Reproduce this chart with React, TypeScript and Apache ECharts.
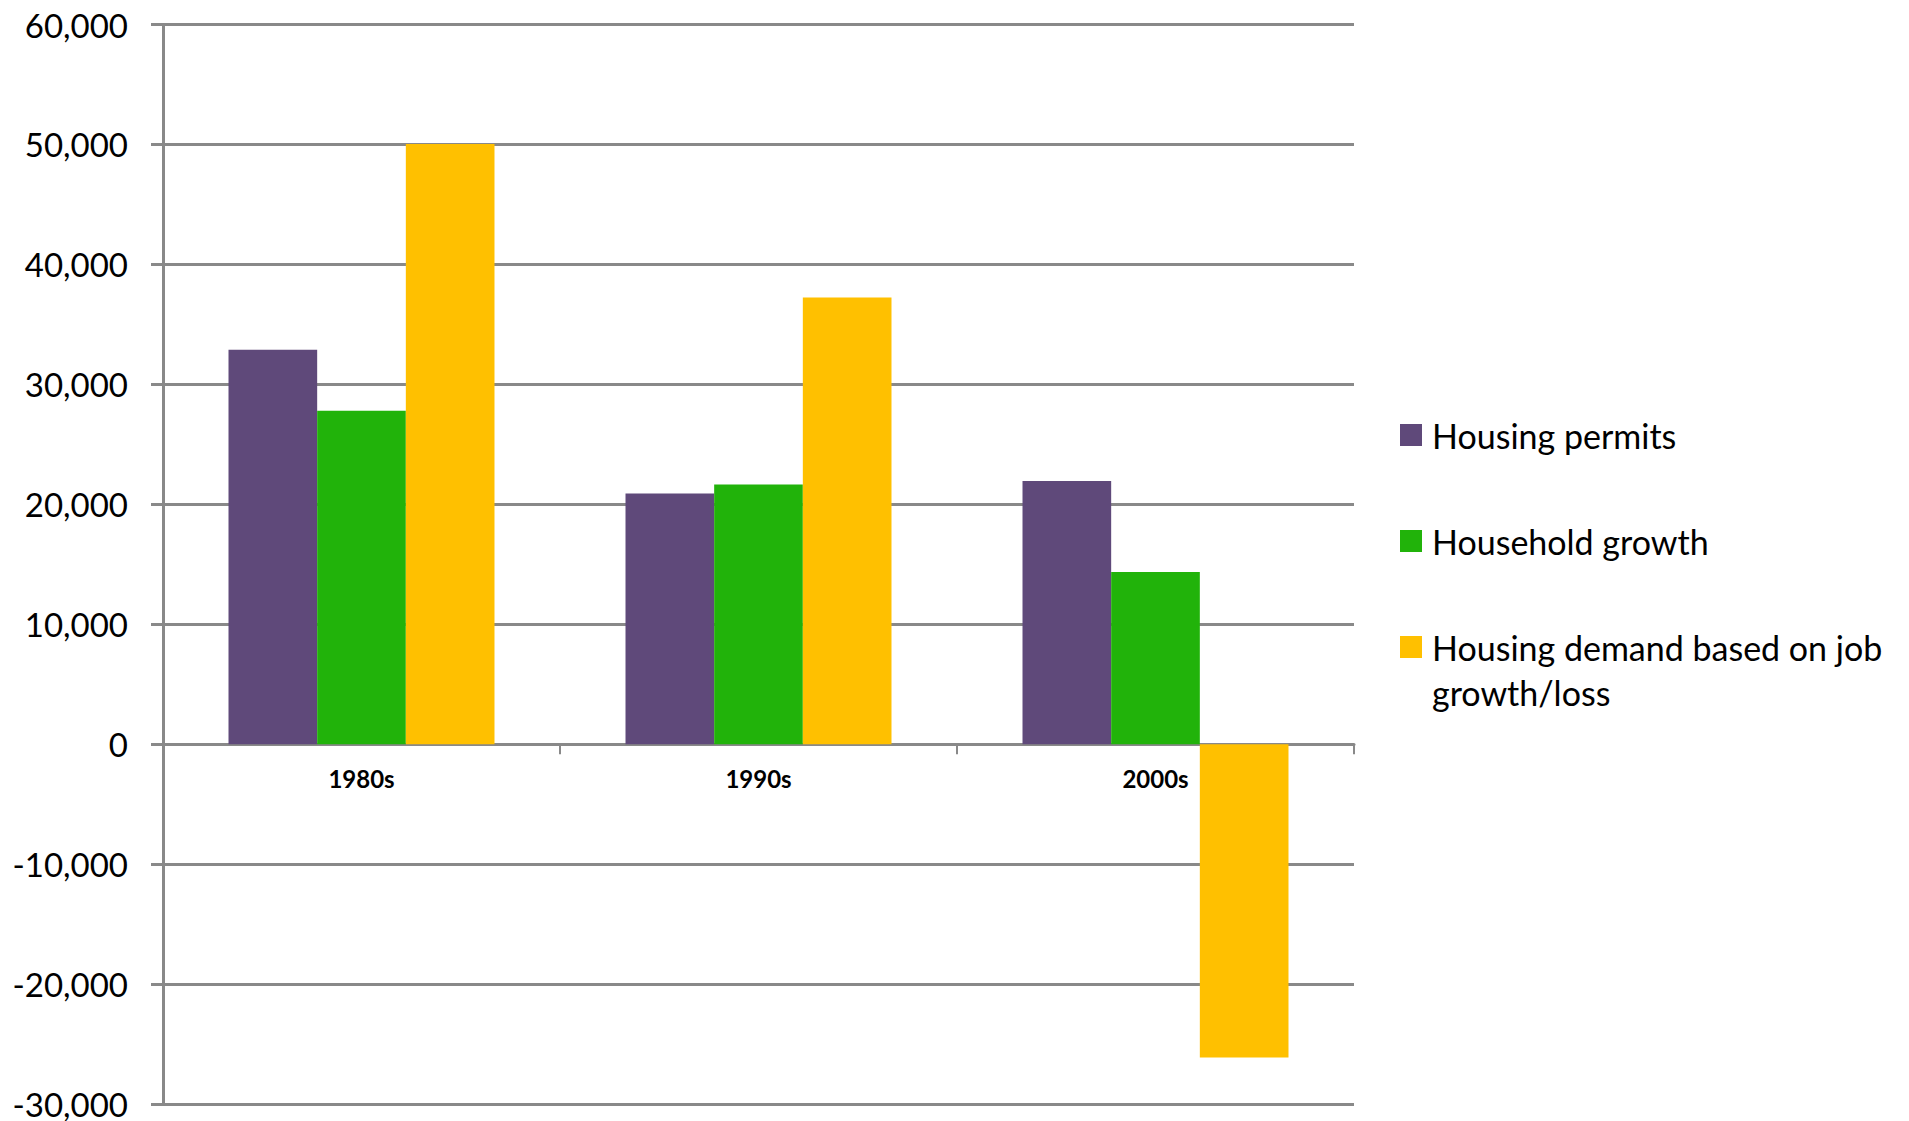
import React, { useEffect, useRef } from "react";
import * as echarts from "echarts";

const categories = ["1980s", "1990s", "2000s"];
const housingPermits = [32900, 20900, 21950];
const householdGrowth = [27800, 21650, 14370];
const jobDemand = [50050, 37250, -26100];
const seriesNames = [
  "Housing permits",
  "Household growth",
  "Housing demand based on job growth/loss",
];
const yMin = -30000;
const yMax = 60000;
const yStep = 10000;

const colors = ["#5F497A", "#21B30A", "#FFC000"];
const gridGray = "#898989";
const font = "Lato, 'Open Sans', sans-serif";

export default function App() {
  const ref = useRef<HTMLDivElement>(null);
  useEffect(() => {
    if (!ref.current) return;
    const chart = echarts.init(ref.current, null, { renderer: "svg" });
    const H = 1121;
    const gridTop = 24.5;
    const gridBottom = 16.7;
    const plotH = H - gridTop - gridBottom;
    // distance (px) from the bottom of the plot up to the zero line
    const zeroFromBottom = (plotH * (0 - yMin)) / (yMax - yMin);
    const legendBase = {
      orient: "vertical",
      left: 1400,
      padding: 0,
      icon: "rect",
      itemWidth: 22,
      itemHeight: 22,
      selectedMode: false,
      textStyle: {
        fontFamily: font,
        fontSize: 34,
        color: "#000",
        lineHeight: 45,
        padding: [0, 0, 0, 5],
      },
    };
    chart.setOption({
      animation: false,
      backgroundColor: "#fff",
      grid: {
        left: 163,
        right: 555,
        top: gridTop,
        bottom: gridBottom,
        containLabel: false,
        outerBoundsMode: "none",
      },
      legend: [
        { ...legendBase, top: 412.5, data: [seriesNames[0]] },
        { ...legendBase, top: 518.5, data: [seriesNames[1]] },
        {
          ...legendBase,
          top: 579.5,
          data: [seriesNames[2]],
          formatter: () => "\nHousing demand based on job\ngrowth/loss",
        },
      ],
      xAxis: {
        type: "category",
        data: categories,
        position: "bottom",
        offset: -zeroFromBottom,
        axisLine: { onZero: false, lineStyle: { color: gridGray, width: 3 } },
        axisTick: { show: true, length: 10, lineStyle: { color: gridGray, width: 2 } },
        axisLabel: {
          fontFamily: font,
          fontSize: 24,
          fontWeight: "bold",
          color: "#000",
          margin: 22,
        },
        splitLine: { show: false },
      },
      yAxis: {
        type: "value",
        min: yMin,
        max: yMax,
        interval: yStep,
        axisLine: { show: true, lineStyle: { color: gridGray, width: 3 } },
        axisTick: { show: true, length: 12, lineStyle: { color: gridGray, width: 3 } },
        axisLabel: {
          fontFamily: font,
          fontSize: 33,
          color: "#000",
          margin: 35,
          formatter: (v: number) => v.toLocaleString("en-US"),
        },
        splitLine: { show: true, lineStyle: { color: gridGray, width: 3 } },
      },
      series: [
        {
          name: seriesNames[0],
          type: "bar",
          data: housingPermits,
          itemStyle: { color: colors[0] },
          barGap: "0%",
          barCategoryGap: "33%",
        },
        {
          name: seriesNames[1],
          type: "bar",
          data: householdGrowth,
          itemStyle: { color: colors[1] },
          barGap: "0%",
          barCategoryGap: "33%",
        },
        {
          name: seriesNames[2],
          type: "bar",
          data: jobDemand,
          itemStyle: { color: colors[2] },
          barGap: "0%",
          barCategoryGap: "33%",
        },
      ],
    });
    return () => chart.dispose();
  }, []);
  return (
    <div
      ref={ref}
      style={{ position: "fixed", left: 0, top: 0, width: 1909, height: 1121 }}
    />
  );
}
